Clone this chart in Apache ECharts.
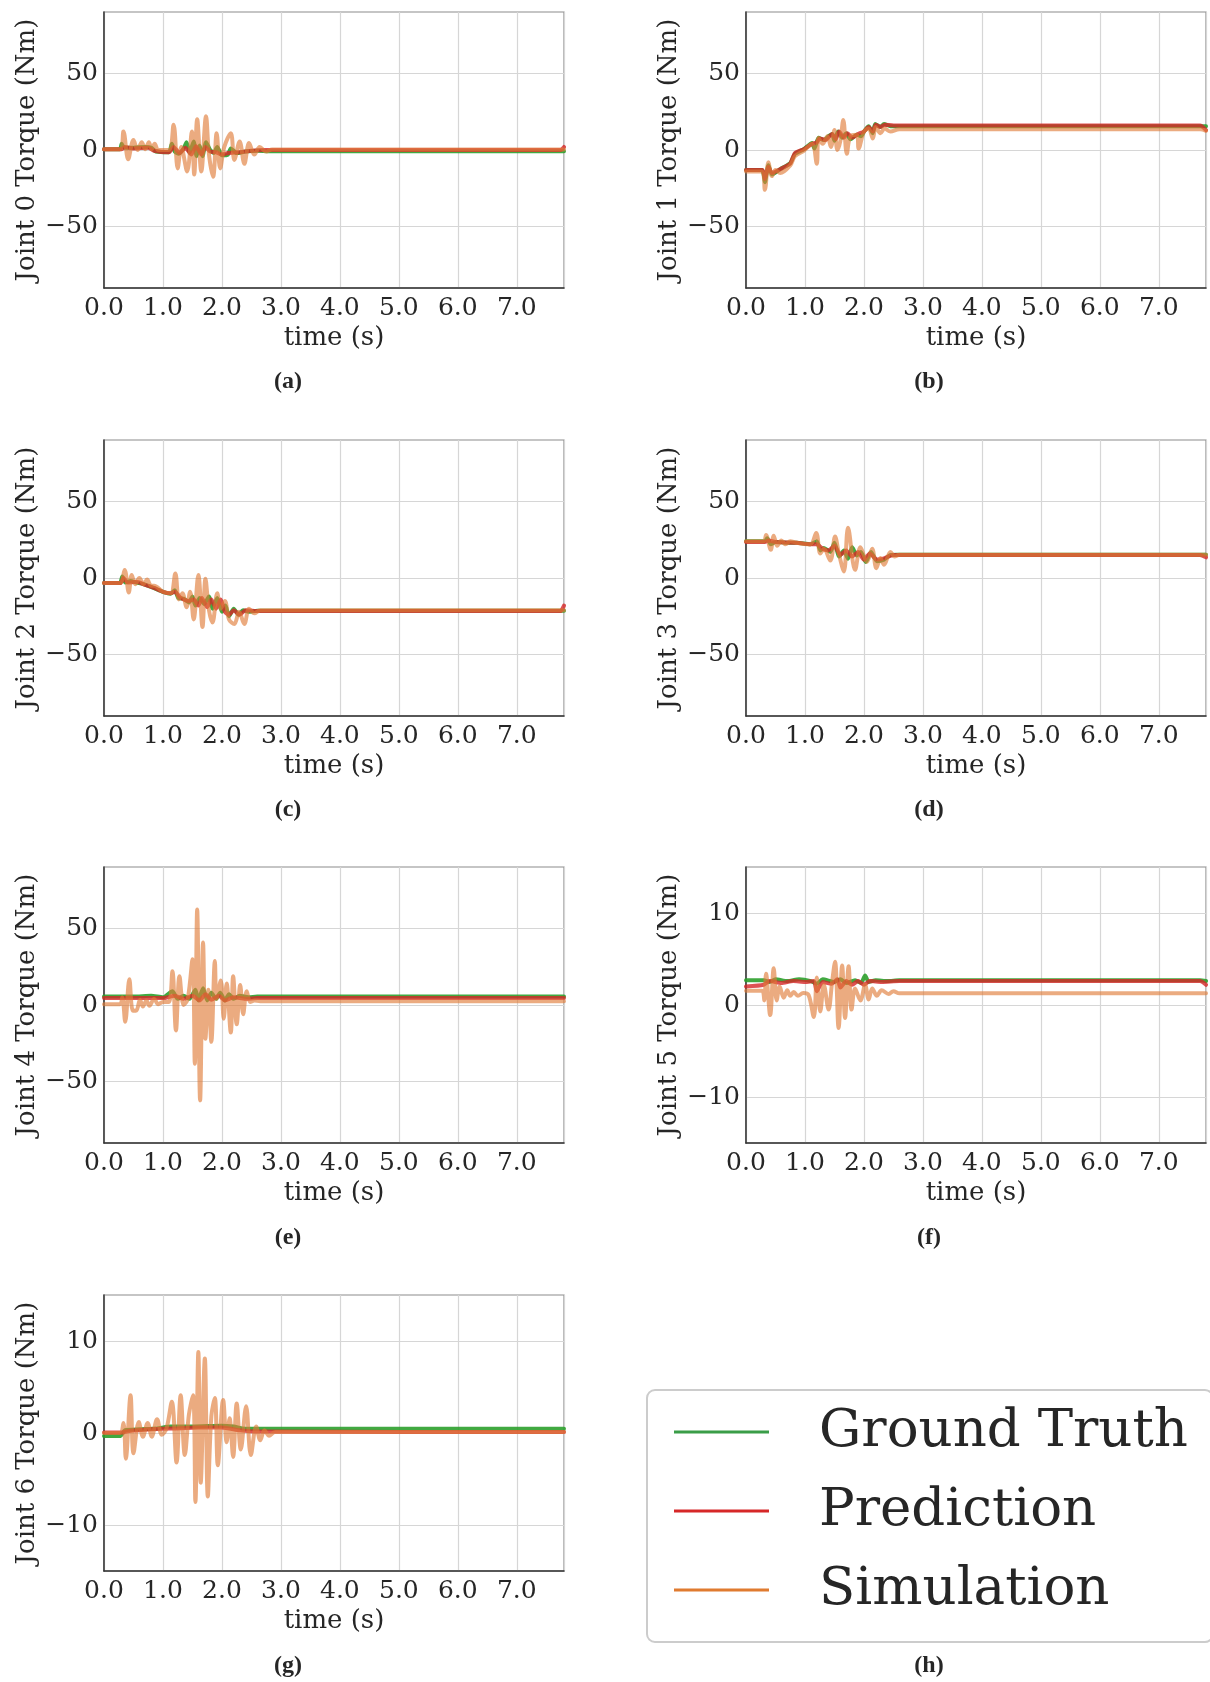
<!DOCTYPE html>
<html>
<head>
<meta charset="utf-8">
<title>Joint torques</title>
<script src="https://cdn.jsdelivr.net/npm/echarts@6/dist/echarts.min.js"></script>
<style>
  html, body { margin: 0; padding: 0; background: #fff; }
  #chart { width: 1210px; height: 1682px; }
</style>
</head>
<body>
<div id="chart"></div>
<script>
	// [time (s), torque (Nm)]
	var gtA = [[0,0.5],[0.27,0.5],[0.3,4],[0.34,1.5],[0.5,1.5],[0.7,2],[0.8,1.5],[0.88,-1],[1.1,-1.5],[1.15,4],[1.2,-1],[1.27,-2.5],[1.35,1],[1.4,5],[1.45,-2],[1.52,5.5],[1.57,-4],[1.62,3],[1.67,-4],[1.73,5],[1.8,0],[1.86,-2],[1.92,2],[2.0,-3.5],[2.1,-3],[2.15,1],[2.25,-2],[2.4,-1],[2.6,-0.5],[2.8,-0.8],[7.8,-0.8]];
	var predA = [[0,0.5],[0.3,0.5],[0.35,2],[0.5,1],[0.75,1.5],[0.85,-0.5],[1.1,-1.5],[1.18,2],[1.28,-2],[1.38,1.5],[1.48,-3],[1.56,2.5],[1.65,-3],[1.72,2],[1.8,-1],[1.9,-1.5],[2.0,-3],[2.1,-2],[2.3,-1.5],[2.5,-0.5],[2.7,0],[7.74,0],[7.8,2]];
	var simA = [[0,0.5],[0.27,0.5],[0.33,12],[0.41,-6],[0.5,6.5],[0.57,0],[0.64,5],[0.7,0.5],[0.76,5],[0.81,0.5],[0.86,4],[0.92,0],[1.1,0],[1.18,16.5],[1.25,-12],[1.31,2],[1.41,-14],[1.49,12],[1.53,-16],[1.58,20],[1.65,-14],[1.73,22],[1.78,-3],[1.85,-17.5],[1.91,11],[1.97,-12],[2.04,2],[2.15,11],[2.21,-6.5],[2.3,5.5],[2.38,-9],[2.46,4.5],[2.55,-3],[2.64,2],[2.75,-1],[2.85,0.3],[7.8,0.3]];

	var gtB = [[0,-13],[0.27,-13],[0.3,-16],[0.32,-21],[0.38,-10],[0.44,-16],[0.58,-12.5],[0.75,-8.5],[0.83,-2.5],[0.98,0.5],[1.12,4.5],[1.16,1],[1.23,8],[1.32,6.5],[1.4,9],[1.46,10.5],[1.5,6],[1.56,12],[1.63,8],[1.7,11],[1.77,7],[1.88,10],[1.95,9],[2.0,12],[2.08,15.5],[2.15,11],[2.19,17],[2.28,15],[2.34,17],[2.45,15.5],[7.8,15.5]];
	var predB = [[0,-13],[0.28,-13],[0.32,-19],[0.38,-11],[0.44,-15],[0.58,-12.5],[0.75,-8.8],[0.83,-2],[0.98,0.5],[1.12,4],[1.2,5],[1.25,7.5],[1.35,6.5],[1.46,10.5],[1.52,7],[1.58,12],[1.66,8],[1.72,11],[1.8,8],[1.9,10.5],[2.0,12],[2.08,15],[2.15,12],[2.2,16.5],[2.28,15],[2.35,16.5],[2.5,16],[7.7,16],[7.8,13]];
	var simB = [[0,-14],[0.27,-14],[0.32,-26],[0.38,-8],[0.44,-17],[0.5,-13],[0.58,-15],[0.75,-10],[0.83,-4],[0.98,-0.5],[1.12,4],[1.2,-9],[1.23,8],[1.3,4],[1.38,9],[1.44,2],[1.5,13],[1.55,0],[1.6,6],[1.65,19.5],[1.71,-2.5],[1.77,9],[1.88,10],[1.91,1],[2.0,12],[2.08,14],[2.15,7.5],[2.2,15],[2.28,11],[2.35,14],[2.45,12],[2.6,13.5],[7.7,13.5],[7.8,12.5]];

	var gtC = [[0,-3.3],[0.27,-3.3],[0.31,1],[0.36,-3],[0.45,-2],[0.55,-3],[0.67,-4],[0.84,-6.5],[1.01,-9.2],[1.13,-10.3],[1.2,-8],[1.26,-13],[1.35,-13.5],[1.44,-16],[1.5,-12],[1.55,-18],[1.62,-13],[1.7,-17],[1.78,-12],[1.84,-20],[1.92,-13],[2.0,-22],[2.06,-18],[2.12,-25],[2.2,-20],[2.28,-24],[2.36,-21],[2.45,-22],[2.6,-21.3],[7.8,-21.3]];
	var predC = [[0,-3.3],[0.28,-3.3],[0.33,0],[0.4,-3],[0.55,-2.5],[0.7,-4.5],[0.85,-6.5],[1.0,-9],[1.13,-10],[1.2,-9],[1.3,-13],[1.44,-15],[1.52,-14],[1.6,-18],[1.66,-13],[1.75,-19],[1.82,-14],[1.9,-20],[1.98,-14],[2.05,-22],[2.12,-24],[2.2,-21],[2.3,-24],[2.4,-21],[2.55,-21.5],[7.74,-21.5],[7.8,-18]];
	var simC = [[0,-3.3],[0.27,-3.3],[0.35,5.2],[0.42,-9.5],[0.47,2],[0.53,-4],[0.6,0],[0.67,-4],[0.73,-1],[0.8,-5],[0.85,-5],[1.0,-9],[1.13,-10],[1.21,3],[1.27,-14],[1.33,-10],[1.4,-19],[1.46,-9],[1.52,-27],[1.6,2],[1.67,-32],[1.72,-0.5],[1.78,-21],[1.84,-29],[1.92,-10],[1.98,-20],[2.05,-15],[2.12,-27],[2.21,-30],[2.29,-22],[2.38,-30],[2.46,-20],[2.55,-23],[2.65,-21],[7.8,-21]];

	var gtD = [[0,23.9],[0.32,23.9],[0.36,26],[0.42,22],[0.5,23.5],[0.7,23],[0.86,23],[1.09,22],[1.2,24],[1.26,18],[1.32,19.6],[1.43,17],[1.5,23],[1.58,14],[1.66,18],[1.73,12.6],[1.8,20],[1.88,14.7],[1.95,17],[2.03,10.5],[2.12,17],[2.22,11],[2.34,12],[2.45,15],[2.56,15.2],[7.8,15.2]];
	var predD = [[0,23.5],[0.32,23.5],[0.38,24.5],[0.5,23.5],[0.86,23],[1.09,22],[1.2,22],[1.3,19],[1.4,18],[1.5,21],[1.6,15],[1.7,18],[1.8,14],[1.9,17],[2.0,12],[2.1,16],[2.22,12],[2.35,13],[2.5,15],[7.7,15],[7.8,13.5]];
	var simD = [[0,23.9],[0.3,23.9],[0.34,28],[0.42,18.4],[0.47,27.6],[0.53,21],[0.6,24.5],[0.67,22],[0.75,24],[0.85,23],[1.09,22],[1.19,29.4],[1.26,16],[1.32,19],[1.43,11.4],[1.51,27],[1.58,15],[1.66,4.3],[1.73,32.7],[1.85,5.3],[1.94,20],[2.05,10.5],[2.14,19],[2.21,6.4],[2.28,13],[2.34,8.6],[2.45,17],[2.52,14],[2.6,15.2],[7.8,15.2]];

	var gtE = [[0,5.6],[0.35,5.6],[0.5,5.5],[0.8,6],[1.0,5],[1.16,9],[1.25,4],[1.35,6],[1.45,4],[1.55,10],[1.6,3],[1.68,11],[1.75,3],[1.82,8],[1.9,4],[1.97,8],[2.05,3],[2.12,7],[2.2,4],[2.3,6],[2.45,5],[2.6,5.5],[7.8,5.5]];
	var predE = [[0,4.5],[0.3,4.5],[0.5,4.5],[1.0,4.5],[1.2,6],[1.35,4],[1.5,6],[1.62,3],[1.72,7],[1.82,3.5],[1.95,6],[2.05,3],[2.2,5],[2.4,4],[2.6,4.5],[7.8,4.5]];
	var simE = [[0,0.5],[0.27,0.5],[0.31,5],[0.36,-11],[0.43,16.8],[0.49,-3.7],[0.55,-3.5],[0.61,3.5],[0.66,-1],[0.72,3],[0.77,-0.5],[0.85,4],[0.92,0.5],[1.0,2],[1.1,2],[1.16,22],[1.22,-16.6],[1.28,18.8],[1.35,0],[1.42,4],[1.5,29.9],[1.54,-38.3],[1.58,62.3],[1.63,-62.2],[1.68,40.7],[1.72,-22],[1.77,10],[1.82,-24],[1.88,28.7],[1.91,4],[1.98,16],[2.03,-9],[2.08,14],[2.15,-18],[2.19,18.8],[2.25,-12.5],[2.31,13],[2.36,-6],[2.42,9],[2.48,2],[2.55,3],[2.65,2.5],[7.8,2.5]];

	var gtF = [[0,2.7],[0.3,2.7],[0.4,2.5],[0.5,2.8],[0.7,2.6],[0.9,2.8],[1.1,2.6],[1.2,2.3],[1.3,2.8],[1.5,2.5],[1.6,2.8],[1.7,2.4],[1.85,2.7],[1.95,2.4],[2.02,3.2],[2.08,2.5],[2.2,2.7],[2.4,2.6],[2.6,2.7],[7.7,2.7],[7.8,2.6]];
	var predF = [[0,2.0],[0.3,2.2],[0.4,2.6],[0.6,2.4],[0.8,2.6],[1.0,2.5],[1.15,2.6],[1.2,1.5],[1.3,2.5],[1.45,2.3],[1.55,2.8],[1.6,1.9],[1.7,2.6],[1.8,2.2],[1.9,2.6],[2.0,2.2],[2.1,2.6],[2.3,2.5],[2.6,2.6],[7.7,2.6],[7.8,2.2]];
	var simF = [[0,1.55],[0.27,1.55],[0.31,0.5],[0.34,3.4],[0.41,-1.1],[0.47,4],[0.52,0.5],[0.57,2],[0.64,0.8],[0.7,1.6],[0.75,1],[0.81,1.4],[0.88,1],[0.97,1.3],[1.06,1.1],[1.15,-1.3],[1.2,3],[1.26,-0.7],[1.32,2.2],[1.4,-0.5],[1.46,2.5],[1.51,4.7],[1.57,-2.5],[1.63,4.3],[1.68,-1.4],[1.74,4.2],[1.79,-0.5],[1.85,1.8],[1.94,0.5],[2.02,2.2],[2.08,0.6],[2.14,1.8],[2.22,1],[2.3,1.6],[2.42,1.2],[2.5,1.5],[2.6,1.27],[7.8,1.27]];

	var gtG = [[0,-0.33],[0.27,-0.33],[0.36,0.3],[0.6,0.4],[0.9,0.5],[1.13,0.7],[1.5,0.7],[2.0,0.8],[2.2,0.7],[2.35,0.5],[2.6,0.45],[7.8,0.45]];
	var predG = [[0,0.05],[0.3,0.05],[0.4,0.2],[0.8,0.4],[1.2,0.5],[1.6,0.6],[2.0,0.6],[2.3,0.3],[2.6,0.15],[7.8,0.1]];
	var simG = [[0,0],[0.27,0],[0.33,1.1],[0.37,-2.8],[0.45,4.1],[0.5,-2.2],[0.59,1.2],[0.66,-0.4],[0.74,1.1],[0.81,-0.4],[0.9,1.5],[0.98,-0.2],[1.06,0.5],[1.15,3.4],[1.23,-3.2],[1.3,4.1],[1.37,-2.4],[1.44,2],[1.51,4.1],[1.55,-7.5],[1.6,8.8],[1.64,-5.4],[1.71,8.1],[1.76,-6.9],[1.82,1.8],[1.88,3.8],[1.93,-3.5],[2.02,3.6],[2.08,-1],[2.13,1.6],[2.19,-2.6],[2.25,3.2],[2.32,-1.8],[2.41,2.9],[2.49,-2.4],[2.58,0.7],[2.65,-0.8],[2.72,0.3],[2.8,-0.3],[2.9,0.1],[7.8,0.1]];

	var seriesNames = ['Ground Truth', 'Prediction', 'Simulation'];
	var captions = ['(a)', '(b)', '(c)', '(d)', '(e)', '(f)', '(g)', '(h)'];
	var bigTicks = [-50, 0, 50];
	var smallTicks = [-10, 0, 10];
	var xTicks = 1;

	var panels = [
		{gt: gtA, pred: predA, sim: simA, lim: 90, ticks: bigTicks},
		{gt: gtB, pred: predB, sim: simB, lim: 90, ticks: bigTicks},
		{gt: gtC, pred: predC, sim: simC, lim: 90, ticks: bigTicks},
		{gt: gtD, pred: predD, sim: simD, lim: 90, ticks: bigTicks},
		{gt: gtE, pred: predE, sim: simE, lim: 90, ticks: bigTicks},
		{gt: gtF, pred: predF, sim: simF, lim: 15, ticks: smallTicks},
		{gt: gtG, pred: predG, sim: simG, lim: 15, ticks: smallTicks}
	];

	var FONT = 'DejaVu Serif';
	var INK = '#262626';
	var colLeft = [104, 746];
	var rowTop = [12, 440, 867, 1295];
	var plotW = 460, plotH = 276;
	var lineCol = {gt: '#2ca02c', pred: '#d62728', sim: '#e07b39'};

	function fmtY(v) {
		return v < 0 ? '\u2212' + Math.abs(v) : String(v);
	}

	var grids = [], xAxes = [], yAxes = [], series = [], graphics = [];
	panels.forEach(function(p, i) {
		var col = i % 2, row = Math.floor(i / 2);
		grids.push({
			left: colLeft[col], top: rowTop[row], width: plotW, height: plotH,
			show: true, borderColor: '#8c8c8c', borderWidth: 1.2
		});
		xAxes.push({
			type: 'value', gridIndex: i, min: 0, max: 7.8, interval: xTicks,
			name: 'time (s)', nameLocation: 'middle', nameGap: 37,
			nameTextStyle: {fontFamily: FONT, fontSize: 26, color: INK},
			axisLine: {show: true, onZero: false, lineStyle: {color: '#333', width: 1.5}},
			axisTick: {show: false},
			axisLabel: {
				fontFamily: FONT, fontSize: 25, color: INK, margin: 8, showMaxLabel: false,
				formatter: function(v) { return v.toFixed(1); }
			},
			splitLine: {show: true, lineStyle: {color: '#d6d6d6', width: 1.2}}
		});
		yAxes.push({
			type: 'value', gridIndex: i, min: -p.lim, max: p.lim,
			name: 'Joint ' + i + ' Torque (Nm)', nameLocation: 'middle', nameGap: 64,
			nameTextStyle: {fontFamily: FONT, fontSize: 26, color: INK},
			axisLine: {show: true, onZero: false, lineStyle: {color: '#333', width: 1.5}},
			axisTick: {show: false, customValues: p.ticks},
			axisLabel: {
				fontFamily: FONT, fontSize: 25, color: INK, margin: 6, padding: [4, 0, 0, 0],
				customValues: p.ticks, formatter: fmtY
			},
			splitLine: {show: true, lineStyle: {color: '#d6d6d6', width: 1.2}}
		});
		[['gt', 0.9], ['pred', 0.8], ['sim', 0.64]].forEach(function(s, k) {
			series.push({
				type: 'line', name: seriesNames[k], xAxisIndex: i, yAxisIndex: i,
				data: p[s[0]], showSymbol: false, symbol: 'none',
				smooth: s[0] === 'sim' ? 0.35 : 0.2,
				itemStyle: {color: lineCol[s[0]]},
				lineStyle: {color: lineCol[s[0]], width: 4, opacity: s[1], cap: 'round', join: 'round'},
				emphasis: {disabled: true},
				z: 2 + k
			});
		});
	});

	captions.forEach(function(c, i) {
		var col = i % 2, row = Math.floor(i / 2);
		graphics.push({
			type: 'text', x: col === 0 ? 288 : 929, y: 382 + row * 428,
			style: {text: c, font: 'bold 24px "Liberation Serif"', fill: INK, align: 'center', verticalAlign: 'middle'}
		});
	});

	var chart = echarts.init(document.getElementById('chart'), null, {renderer: 'canvas'});
	chart.setOption({
		animation: false,
		backgroundColor: '#ffffff',
		grid: grids,
		xAxis: xAxes,
		yAxis: yAxes,
		series: series,
		graphic: graphics,
		legend: {
			orient: 'vertical', left: 647, top: 1390,
			padding: [10, 25, 20, 27], itemGap: 15,
			itemWidth: 95, itemHeight: 3, icon: 'rect',
			borderColor: '#cccccc', borderWidth: 2, borderRadius: 8, backgroundColor: '#fff',
			textStyle: {fontFamily: FONT, fontSize: 53, color: INK, lineHeight: 64, padding: [0, 0, 0, 45]},
			selectedMode: false,
			data: [
				{name: 'Ground Truth', itemStyle: {color: '#3a9d48', opacity: 1}},
				{name: 'Prediction', itemStyle: {color: '#d62728', opacity: 1}},
				{name: 'Simulation', itemStyle: {color: '#e07b30', opacity: 1}}
			]
		}
	});
</script>
</body>
</html>
